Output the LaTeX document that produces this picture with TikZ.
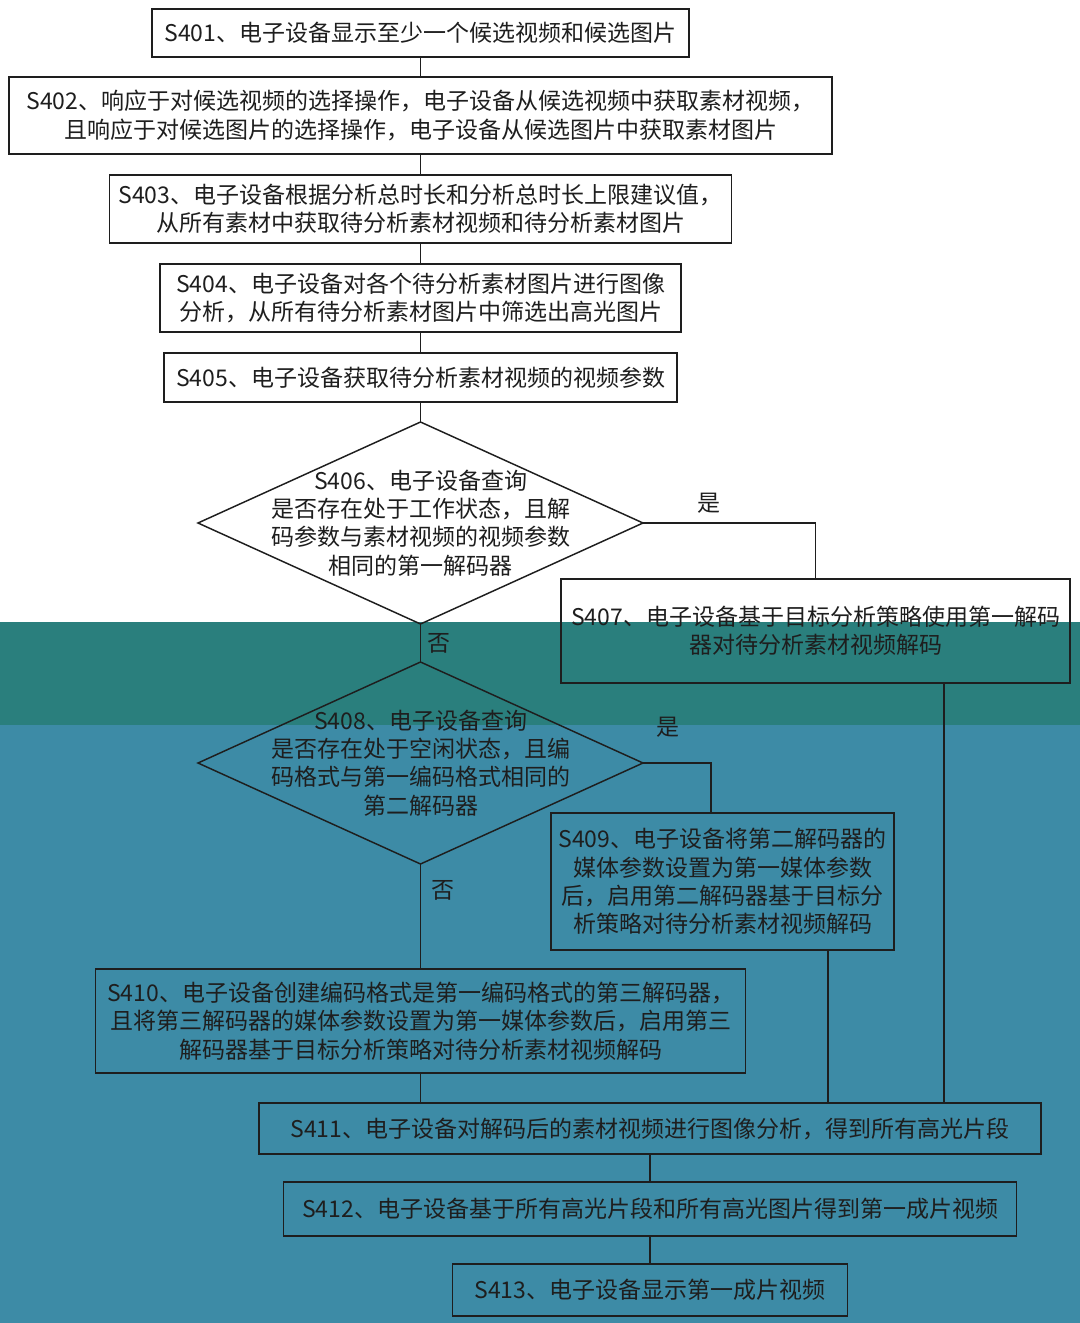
\documentclass[tikz,border=0pt]{standalone}
\usepackage{fontspec}
\setmainfont{Noto Sans CJK SC}
\usetikzlibrary{positioning,shapes.geometric}
\definecolor{ink}{HTML}{1E1E1E}
\definecolor{tealdeep}{HTML}{2A7F7D}
\definecolor{tealsoft}{HTML}{3D8BA6}
\tikzset{
  box/.style={draw=ink, line width=1.1pt, inner sep=0pt, outer sep=0pt, align=center, text=ink},
  decision/.style={draw=ink, line width=1.1pt, diamond, aspect=2.2, inner sep=0pt, outer sep=0pt,
    minimum width=333.75pt, minimum height=151.5pt},
  dtext/.style={align=center, text=ink, inner sep=0pt},
  con/.style={draw=ink, line width=1pt},
  lab/.style={text=ink, inner sep=0pt},
}

\begin{document}
\begin{tikzpicture}[x=0.75pt, y=-0.75pt, font=\fontsize{17.25pt}{21.2pt}\selectfont]
    \fill[white] (0,0) rectangle (1080,1323);
    \fill[tealdeep] (0,622) rectangle (1080,725);
    \fill[tealsoft] (0,725) rectangle (1080,1323);
    \useasboundingbox (0,0) rectangle (1080,1323);
    \node[box, minimum width=402.75pt, minimum height=36pt] (s401) at (420.5,33)
      {S401、电子设备显示至少一个候选视频和候选图片};
    \node[box, minimum width=617.25pt, minimum height=57.75pt, below=15pt of s401] (s402)
      {S402、响应于对候选视频的选择操作，电子设备从候选视频中获取素材视频，\\且响应于对候选图片的选择操作，电子设备从候选图片中获取素材图片};
    \node[box, minimum width=466.5pt, minimum height=51pt, below=15.75pt of s402] (s403)
      {S403、电子设备根据分析总时长和分析总时长上限建议值，\\从所有素材中获取待分析素材视频和待分析素材图片};
    \node[box, minimum width=390.75pt, minimum height=51pt, below=15.75pt of s403] (s404)
      {S404、电子设备对各个待分析素材图片进行图像\\分析，从所有待分析素材图片中筛选出高光图片};
    \node[box, minimum width=384.75pt, minimum height=36.75pt, below=15.75pt of s404] (s405)
      {S405、电子设备获取待分析素材视频的视频参数};
    \node[decision, below=15pt of s405] (s406) {};
    \node[dtext] (s406txt) at (s406)
      {S406、电子设备查询\\是否存在处于工作状态，且解\\码参数与素材视频的视频参数\\相同的第一解码器};
    \node[box, minimum width=381.75pt, minimum height=78pt] (s407) at (815.5,631)
      {S407、电子设备基于目标分析策略使用第一解码\\器对待分析素材视频解码};
    \node[decision, below=28.5pt of s406] (s408) {};
    \node[dtext] (s408txt) at (s408)
      {S408、电子设备查询\\是否存在处于空闲状态，且编\\码格式与第一编码格式相同的\\第二解码器};
    \node[box, minimum width=257.25pt, minimum height=102.75pt] (s409) at (722.5,881.5)
      {S409、电子设备将第二解码器的\\媒体参数设置为第一媒体参数\\后，启用第二解码器基于目标分\\析策略对待分析素材视频解码};
    \node[box, minimum width=487.5pt, minimum height=78pt, below=78.75pt of s408] (s410)
      {S410、电子设备创建编码格式是第一编码格式的第三解码器，\\且将第三解码器的媒体参数设置为第一媒体参数后，启用第三\\解码器基于目标分析策略对待分析素材视频解码};
    \node[box, minimum width=586.5pt, minimum height=38.25pt] (s411) at (650,1128.5)
      {S411、电子设备对解码后的素材视频进行图像分析，得到所有高光片段};
    \node[box, minimum width=549.75pt, minimum height=40.5pt, below=21pt of s411] (s412)
      {S412、电子设备基于所有高光片段和所有高光图片得到第一成片视频};
    \node[box, minimum width=296.25pt, minimum height=39pt, below=21pt of s412] (s413)
      {S413、电子设备显示第一成片视频};
    \draw[con] (s401) -- (s402);
    \draw[con] (s402) -- (s403);
    \draw[con] (s403) -- (s404);
    \draw[con] (s404) -- (s405);
    \draw[con] (s405) -- (s406.north);
    \draw[con] (s406.east) -| node[lab, pos=0.19, above=6.5pt]{是} (s407.north);
    \draw[con] (s406.south) -- node[lab, midway, right=4.5pt]{否} (s408.north);
    \draw[con] (s408.east) -| node[lab, pos=0.18, above=19pt]{是} ([xshift=-8.6pt]s409.north);
    \draw[con] (s408.south) -- node[lab, pos=0.25, right=7.5pt]{否} (s410.north);
    \draw[con] ([xshift=96.4pt]s407.south) -- ([xshift=96.4pt]s407.south |- s411.north);
    \draw[con] ([xshift=79.1pt]s409.south) -- ([xshift=79.1pt]s409.south |- s411.north);
    \draw[con] (s410.south) -- (s410.south |- s411.north);
    \draw[con] (s411) -- (s412);
    \draw[con] (s412) -- (s413);
  \end{tikzpicture}
\end{document}
